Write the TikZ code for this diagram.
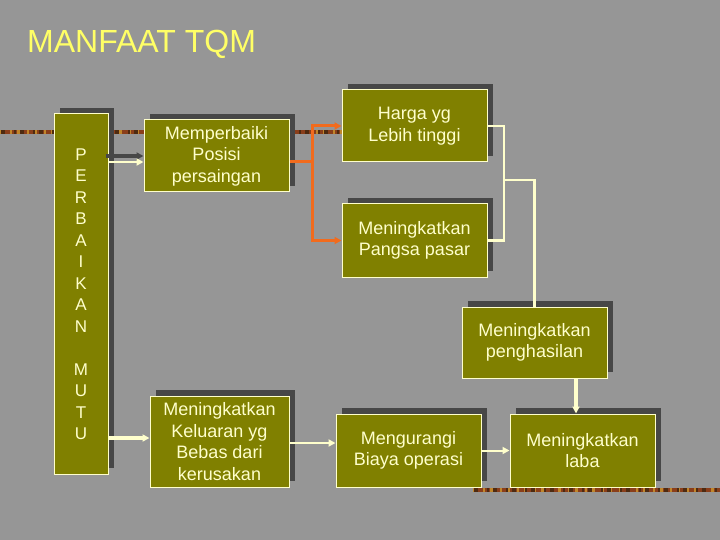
\documentclass[tikz,border=0pt]{standalone}
\usepackage{fontspec}
\setmainfont{Liberation Sans}
\usetikzlibrary{arrows.meta,shadows,calc}
\definecolor{bg}{HTML}{969696}
\definecolor{olivebox}{HTML}{808000}
\definecolor{cream}{HTML}{FFFFCC}
\definecolor{shadowc}{HTML}{474747}
\definecolor{titlec}{HTML}{FFFF66}
\definecolor{orangec}{HTML}{F26B1D}
\definecolor{stripea}{HTML}{8A3E1A}
\definecolor{stripeb}{HTML}{C0862A}
\definecolor{stripec}{HTML}{4E2A10}
\tikzset{
  box/.style={draw=cream, fill=olivebox, line width=1pt, text=cream, align=center,
    font=\fontsize{18}{21.5}\selectfont, inner sep=0pt,
    drop shadow={shadow xshift=6pt, shadow yshift=6pt, fill=shadowc, opacity=1}},
  conn/.style={draw=cream, line width=2.5pt},
  tip/.style={-{Triangle[length=7pt,width=7pt]}},
  orangeline/.style={draw=orangec, line width=3pt, line join=miter},
  stripe/.style={line width=4.5pt}
}
\begin{document}
\begin{tikzpicture}[x=1pt,y=-1pt]
\fill[bg] (0,0) rectangle (720,540);
\useasboundingbox (0,0) rectangle (720,540);
% decorative stripes
\coordinate (s1a) at (0,132);
\coordinate (s1b) at (342,132);
\coordinate (s2a) at (473,490);
\coordinate (s2b) at (720,490);
\foreach \a/\b in {s1a/s1b,s2a/s2b}{
  \draw[stripe, stripea] (\a) -- (\b);
  \draw[stripe, stripeb, dash pattern=on 3pt off 7pt on 2pt off 5pt] (\a) -- (\b);
  \draw[stripe, stripec, dash pattern=on 2pt off 4pt on 4pt off 9pt, dash phase=5pt] (\a) -- (\b);
}
% title
\node[anchor=base west, text=titlec, font=\fontsize{32}{36}\selectfont, inner sep=0pt] (title) at (27,53) {MANFAAT TQM};
% boxes
\node[box, minimum width=54pt, minimum height=360pt, font=\fontsize{17}{21.5}\selectfont] (mutu) at (81,294)
  {P\\E\\R\\B\\A\\I\\K\\A\\N\\\mbox{}\\M\\U\\T\\U};
\node[box, minimum width=145pt, minimum height=72pt] (posisi) at (216.5,156) {Memperbaiki\\Posisi\\persaingan};
\node[box, minimum width=145pt, minimum height=72pt] (harga) at (414.5,126) {Harga yg\\Lebih tinggi};
\node[box, minimum width=145pt, minimum height=73pt] (pangsa) at (414.5,240.5) {Meningkatkan\\Pangsa pasar};
\node[box, minimum width=145pt, minimum height=71pt] (hasil) at (534.5,342.5) {Meningkatkan\\penghasilan};
\node[box, minimum width=139pt, minimum height=91pt] (keluaran) at (219.5,441.5) {Meningkatkan\\Keluaran yg\\Bebas dari\\kerusakan};
\node[box, minimum width=145pt, minimum height=73pt] (biaya) at (408.5,450.5) {Mengurangi\\Biaya operasi};
\node[box, minimum width=145pt, minimum height=73pt] (laba) at (582.5,450.5) {Meningkatkan\\laba};
% mutu -> posisi (with shadow arrow)
\coordinate (p1) at ([yshift=-6pt]posisi.west);
\draw[shadowc, line width=4pt, tip] ([xshift=-3pt]mutu.east |- posisi.west) -- (posisi.west);
\draw[conn, line width=2pt, tip] (mutu.east |- p1) -- (p1);
% mutu -> keluaran
\coordinate (k1) at ([yshift=3.5pt]keluaran.west);
\draw[conn, line width=4pt, tip] (mutu.east |- k1) -- (k1);
% posisi -> harga / pangsa (orange)
\coordinate (ob) at (312,162);
\draw[orangeline] ([yshift=-6pt]posisi.east) -- (ob);
\draw[orangeline, tip] (ob) |- (harga.west);
\draw[orangeline, tip] (ob) |- (pangsa.west);
% harga / pangsa -> hasil
\coordinate (jb) at (504,180);
\draw[conn, line join=miter] (harga.east) -| (jb) |- (pangsa.east);
\draw[conn, line join=miter] (jb) -| (hasil.north);
% hasil -> laba
\coordinate (hl) at ([xshift=-6.5pt]laba.north);
\draw[conn, line width=3.5pt, tip] (hasil.south -| hl) -- (hl);
% keluaran -> biaya
\coordinate (kb) at ([yshift=-1.5pt]keluaran.east);
\draw[conn, line width=2pt, tip] (kb) -- (biaya.west |- kb);
% biaya -> laba
\draw[conn, line width=2pt, tip] (biaya.east) -- (laba.west);
\end{tikzpicture}
\end{document}
